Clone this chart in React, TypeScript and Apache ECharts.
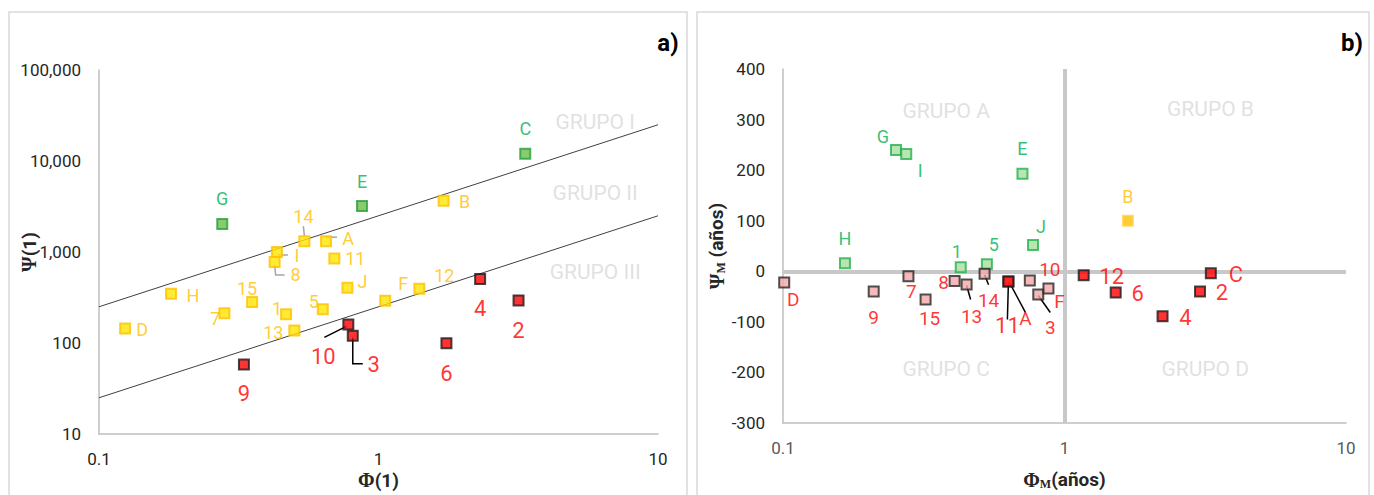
import React, { useEffect, useRef } from 'react';
import * as echarts from 'echarts';

// ---------- Panel a) data ----------
const aGreenNames = ['C', 'E', 'G'];
const aGreenPhi = [3.35, 0.873, 0.276];
const aGreenPsi = [12000, 3200, 2030];

const aYellowNames = ['B', '14', 'A', 'I', '8', '11', 'J', 'F', '12', '5', '1', '15', '7', 'H', 'D', '13'];
const aYellowPhi = [1.71, 0.543, 0.649, 0.433, 0.425, 0.695, 0.774, 1.057, 1.4, 0.632, 0.467, 0.353, 0.281, 0.181, 0.124, 0.5];
const aYellowPsi = [3660, 1315, 1315, 1000, 778, 847, 404, 292, 394, 235, 207, 282, 212, 348, 144, 137];

const aRedNames = ['10', '3', '9', '6', '4', '2'];
const aRedPhi = [0.78, 0.809, 0.33, 1.75, 2.31, 3.17];
const aRedPsi = [160, 120, 58, 99.6, 505, 294];

const aUpperBound = [[0.1, 250], [10, 25000]];
const aLowerBound = [[0.1, 25], [10, 2500]];

const aGroupNames = ['GRUPO I', 'GRUPO II', 'GRUPO III'];
const aGroupPhi = [5.96, 5.96, 5.96];
const aGroupPsi = [27100, 4460, 598];

const aXTicks = [0.1, 1, 10];
const aYTicks = [10, 100, 1000, 10000, 100000];

// ---------- Panel b) data ----------
const bGreenNames = ['G', 'I', 'E', 'H', '1', '5', 'J'];
const bGreenPhi = [0.252, 0.274, 0.709, 0.166, 0.428, 0.53, 0.773];
const bGreenPsi = [240, 232, 193, 16, 8, 14, 52];

const bYellowNames = ['B'];
const bYellowPhi = [1.68];
const bYellowPsi = [100];

const bPinkNames = ['D', '9', '7', '15', '8', '13', '14', 'A', '10', '3', 'F'];
const bPinkPhi = [0.101, 0.21, 0.279, 0.321, 0.407, 0.449, 0.52, 0.632, 0.753, 0.807, 0.877];
const bPinkPsi = [-22, -40, -10, -56, -19, -26, -5, -20, -18, -46, -34];

const bRedNames = ['11', '12', '6', '4', '2', 'C'];
const bRedPhi = [0.632, 1.17, 1.52, 2.23, 3.03, 3.31];
const bRedPsi = [-20, -8, -42, -89, -40, -4];

const bGroupNames = ['GRUPO A', 'GRUPO B', 'GRUPO C', 'GRUPO D'];
const bGroupPhi = [0.38, 3.3, 0.38, 3.16];
const bGroupPsi = [316, 320, -194, -194];

const bYMin = -300;
const bYMax = 400;
const bYStep = 100;

// ---------- styling (label offsets in px, leader lines) ----------
const aLabelOff: Record<string, number[]> = {
  C: [0, -25], E: [0, -25], G: [0, -26], B: [21, 1], '14': [-1, -25], A: [22, -3], I: [20, 3],
  '8': [21, 13], '11': [21, 0], J: [15, -6], F: [18, -17], '12': [25, -13], '5': [-9, -8],
  '1': [-9, -6], '15': [-5, -14], '7': [-9, 5], H: [22, 2], D: [17, 1], '13': [-21, 2],
  '10': [-25, 32], '3': [21, 29], '9': [0, 29], '6': [0, 30], '4': [0, 29], '2': [0, 30],
};
const bLabelOff: Record<string, number[]> = {
  G: [-13, -13], I: [14, 17], E: [0, -25], H: [0, -25], '1': [-4, -16], '5': [7, -20], J: [8, -18],
  B: [0, -24], D: [9, 17], '9': [0, 26], '7': [3, 15], '15': [4, 19], '8': [-11, 2], '13': [5, 32],
  '14': [4, 27], '11': [-1, 44], A: [17, 37], '10': [20, -11], '3': [12, 33], F: [11, 13],
  '12': [28, 1], '6': [22, 1], '4': [23, 1], '2': [22, 1], C: [25, 1],
};
// leader lines: [grid, phi, psi, color, pixel offsets]
const leaders: [number, number, number, string, number[][]][] = [
  [0, 0.543, 1315, '#a6a6a6', [[-1, -15], [0, -5]]],
  [0, 0.649, 1315, '#a6a6a6', [[0, -4], [11, -4]]],
  [0, 0.433, 1000, '#a6a6a6', [[1, 3], [11, 3]]],
  [0, 0.425, 778, '#a6a6a6', [[0, 3], [1, 13], [10, 13]]],
  [0, 0.78, 160, '#000000', [[-24, 13], [-2, 2]]],
  [0, 0.809, 120, '#000000', [[0, 2], [0, 28], [10, 28]]],
  [1, 0.449, -26, '#000000', [[0, 1], [4, 15]]],
  [1, 0.52, -5, '#000000', [[0, 1], [4, 11]]],
  [1, 0.632, -20, '#000000', [[0, 1], [-1, 38]]],
  [1, 0.632, -20, '#000000', [[1, 1], [17, 31]]],
  [1, 0.807, -46, '#000000', [[0, 1], [12, 18]]],
];

const SANS = '"Liberation Sans Narrow", "Roboto", "Noto Sans", sans-serif';
const GREEN_TXT = '#00b050';
const YELLOW_TXT = '#ffc000';
const RED_TXT = '#ff0000';

function items(names: string[], xs: number[], ys: number[], off: Record<string, number[]>) {
  return names.map((n, i) => ({
    name: n,
    value: [xs[i], ys[i]],
    label: { offset: off[n] || [0, 0] },
  }));
}

function scatter(gi: number, data: any[], fill: string, border: string, txt: string, fs: number, size = 10) {
  return {
    type: 'scatter',
    xAxisIndex: gi,
    yAxisIndex: gi,
    symbol: 'rect',
    symbolSize: size,
    z: 5,
    silent: true,
    itemStyle: { color: fill, borderColor: border, borderWidth: 2 },
    label: {
      show: true,
      position: 'inside',
      formatter: '{b}',
      color: txt,
      fontSize: fs,
      fontFamily: SANS,
    },
    data,
  };
}

function groupText(gi: number, names: string[], xs: number[], ys: number[]) {
  return {
    type: 'scatter',
    xAxisIndex: gi,
    yAxisIndex: gi,
    symbolSize: 1,
    silent: true,
    itemStyle: { color: 'rgba(0,0,0,0)' },
    label: {
      show: true,
      position: 'inside',
      formatter: '{b}',
      color: '#d9d9d9',
      fontSize: 21,
      fontFamily: SANS,
    },
    data: names.map((n, i) => ({ name: n, value: [xs[i], ys[i]] })),
  };
}

const axisLineStyle = { color: '#bfbfbf', width: 1.5 };
const tickLabel = { color: '#262626', fontSize: 17, fontFamily: SANS };
const nameRich = {
  g: { fontFamily: '"Liberation Serif", serif', fontWeight: 'bold', fontSize: 20, color: '#262626' },
  s: { fontFamily: '"Liberation Serif", serif', fontWeight: 'bold', fontSize: 12, color: '#262626', padding: [9, 0, 0, 0] },
  t: { fontFamily: SANS, fontWeight: 'bold', fontSize: 19, color: '#262626' },
};

export default function App() {
  const ref = useRef<HTMLDivElement>(null);
  useEffect(() => {
    const chart = echarts.init(ref.current!, null, { renderer: 'svg' });
    const logFmt = (v: number) => String(+Number(v).toPrecision(3));
    const option: any = {
      animation: false,
      backgroundColor: '#ffffff',
      grid: [
        { left: 99, top: 70, width: 559, height: 367 },
        { left: 783, top: 69, width: 563, height: 356 },
      ],
      xAxis: [
        {
          gridIndex: 0, type: 'log', logBase: 10, min: aXTicks[0], max: aXTicks[aXTicks.length - 1],
          axisLine: { lineStyle: axisLineStyle }, axisTick: { show: false }, splitLine: { show: false },
          axisLabel: { ...tickLabel, margin: 16, formatter: logFmt },
          name: '{g|Φ}{t|(1)}', nameLocation: 'middle', nameGap: 36, nameMoveOverlap: false,
          nameTextStyle: { rich: nameRich },
        },
        {
          gridIndex: 1, type: 'log', logBase: 10, min: aXTicks[0], max: aXTicks[aXTicks.length - 1],
          axisLine: { onZero: false, lineStyle: axisLineStyle }, axisTick: { show: false }, splitLine: { show: false },
          axisLabel: { ...tickLabel, color: '#595959', margin: 16, formatter: logFmt },
          name: '{g|Φ}{s|M}{t|(años)}', nameLocation: 'middle', nameGap: 46, nameMoveOverlap: false,
          nameTextStyle: { rich: nameRich },
        },
      ],
      yAxis: [
        {
          gridIndex: 0, type: 'log', logBase: 10, min: aYTicks[0], max: aYTicks[aYTicks.length - 1],
          axisLine: { show: true, lineStyle: axisLineStyle }, axisTick: { show: false }, splitLine: { show: false },
          axisLabel: { ...tickLabel, margin: 18, formatter: (v: number) => Math.round(v).toLocaleString('en-US') },
          name: '{g|Ψ}{t|(1)}', nameLocation: 'middle', nameGap: 60, nameRotate: 90, nameMoveOverlap: false,
          nameTextStyle: { rich: nameRich },
        },
        {
          gridIndex: 1, type: 'value', min: bYMin, max: bYMax, interval: bYStep,
          axisLine: { show: true, onZero: false, lineStyle: axisLineStyle }, axisTick: { show: false }, splitLine: { show: false },
          axisLabel: { ...tickLabel, margin: 18 },
          name: '{g|Ψ}{s|M}{t| (años)}', nameLocation: 'middle', nameGap: 56, nameRotate: 90, nameMoveOverlap: false,
          nameTextStyle: { rich: nameRich },
        },
      ],
      series: [
        {
          type: 'line', xAxisIndex: 0, yAxisIndex: 0, data: aUpperBound, symbol: 'none', silent: true, z: 2,
          lineStyle: { color: '#404040', width: 1 },
        },
        {
          type: 'line', xAxisIndex: 0, yAxisIndex: 0, data: aLowerBound, symbol: 'none', silent: true, z: 2,
          lineStyle: { color: '#404040', width: 1 },
        },
        groupText(0, aGroupNames, aGroupPhi, aGroupPsi),
        scatter(0, items(aGreenNames, aGreenPhi, aGreenPsi, aLabelOff), '#6abf4b', '#2a9d3a', GREEN_TXT, 18),
        scatter(0, items(aYellowNames, aYellowPhi, aYellowPsi, aLabelOff), '#ffe600', '#ffc000', YELLOW_TXT, 18),
        scatter(0, items(aRedNames, aRedPhi, aRedPsi, aLabelOff), '#ff0000', '#1a1a1a', RED_TXT, 22),
        {
          type: 'scatter', xAxisIndex: 1, yAxisIndex: 1, data: [], silent: true,
          markLine: {
            silent: true, symbol: 'none', label: { show: false },
            lineStyle: { color: '#c8c8c8', width: 4, type: 'solid' },
            data: [{ xAxis: 1 }, { yAxis: 0 }],
          },
        },
        groupText(1, bGroupNames, bGroupPhi, bGroupPsi),
        scatter(1, items(bGreenNames, bGreenPhi, bGreenPsi, bLabelOff), '#a9dfa0', '#22b14c', GREEN_TXT, 18),
        scatter(1, items(bYellowNames, bYellowPhi, bYellowPsi, bLabelOff), '#ffc000', '#ffd24d', YELLOW_TXT, 18),
        scatter(1, items(bPinkNames, bPinkPhi, bPinkPsi, bLabelOff), '#f4a7a7', '#262626', RED_TXT, 19),
        scatter(1, items(bRedNames, bRedPhi, bRedPsi, bLabelOff), '#ff0000', '#1a1a1a', RED_TXT, 22),
      ],
    };
    chart.setOption(option);

    const graphics: any[] = [
      { type: 'rect', shape: { x: 9, y: 12, width: 678, height: 520 }, style: { fill: 'none', stroke: '#d9d9d9', lineWidth: 1.5 }, z: -10, silent: true },
      { type: 'rect', shape: { x: 697, y: 12, width: 672, height: 520 }, style: { fill: 'none', stroke: '#d9d9d9', lineWidth: 1.5 }, z: -10, silent: true },
      { type: 'text', x: 668, y: 43, style: { text: 'a)', font: 'bold 24px Roboto, sans-serif', fill: '#000', textAlign: 'center', textVerticalAlign: 'middle' }, silent: true },
      { type: 'text', x: 1352, y: 43, style: { text: 'b)', font: 'bold 24px Roboto, sans-serif', fill: '#000', textAlign: 'center', textVerticalAlign: 'middle' }, silent: true },
    ];
    leaders.forEach(([gi, x, y, color, pts]) => {
      const p = chart.convertToPixel({ xAxisIndex: gi, yAxisIndex: gi } as any, [x, y]) as number[];
      if (!p) return;
      graphics.push({
        type: 'polyline',
        silent: true,
        z: 4,
        shape: { points: pts.map((o) => [p[0] + o[0], p[1] + o[1]]) },
        style: { stroke: color, lineWidth: 1.5, fill: 'none' },
      });
    });
    chart.setOption({ graphic: graphics });

    return () => chart.dispose();
  }, []);
  return (
    <div
      ref={ref}
      style={{ position: 'fixed', left: 0, top: 0, width: 1374, height: 495, background: '#fff' }}
    />
  );
}
